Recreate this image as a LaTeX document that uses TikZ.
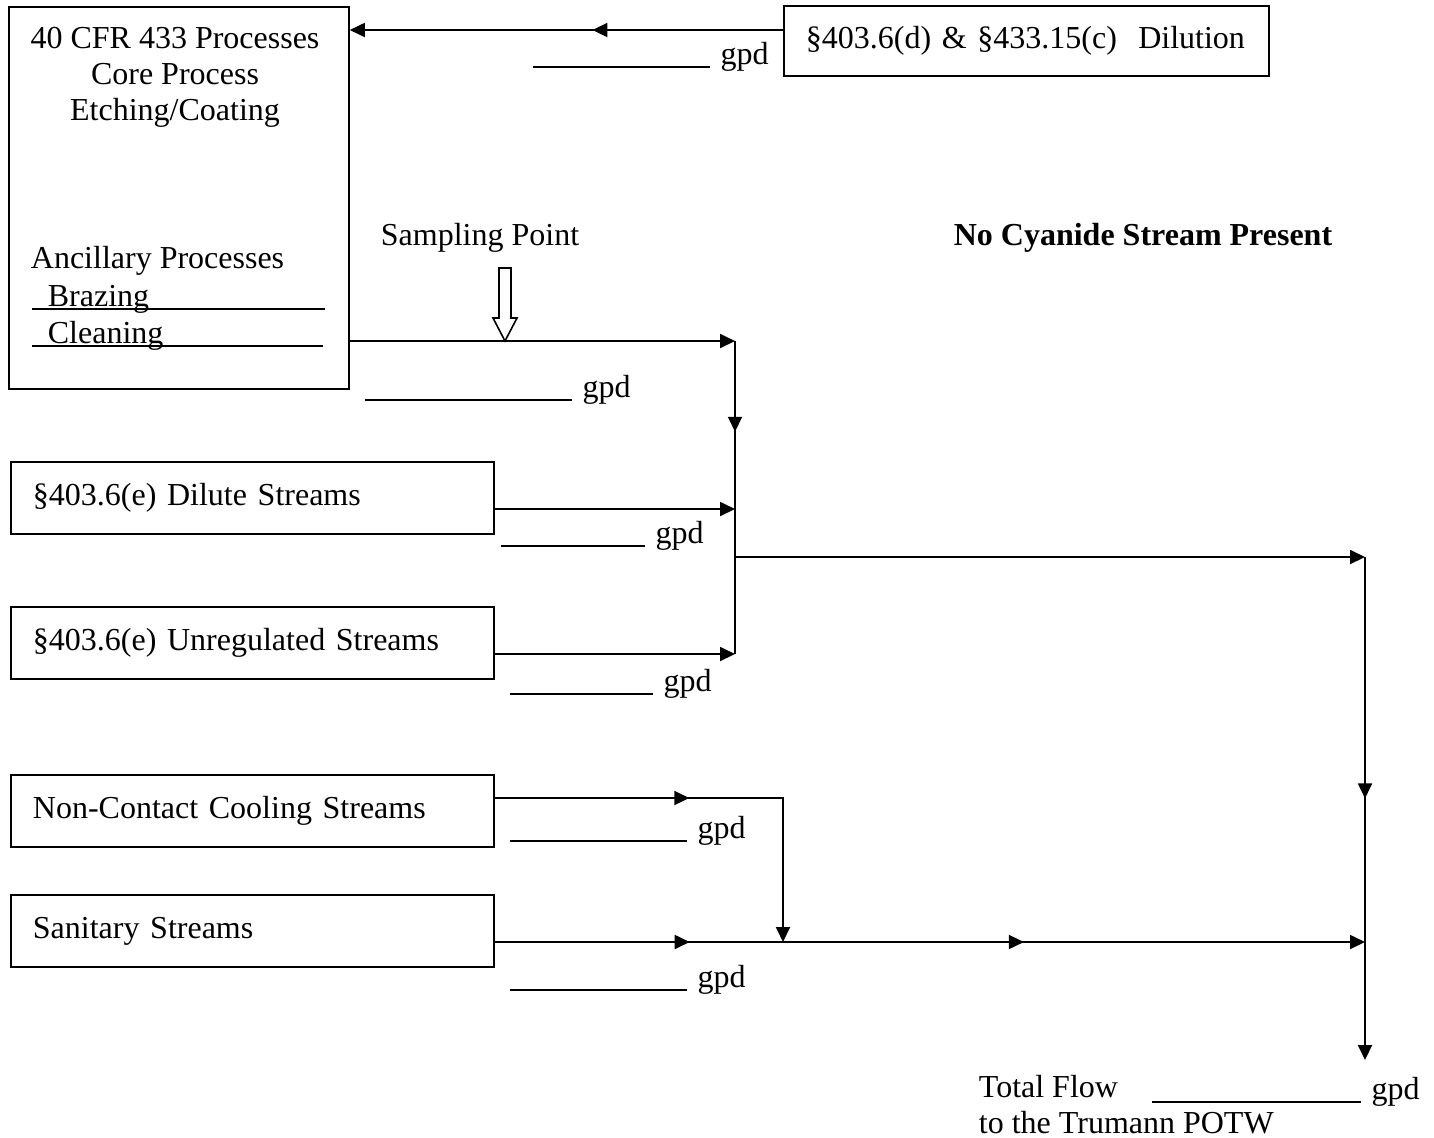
\documentclass[tikz,border=0pt]{standalone}
\usepackage{fontspec}
\setmainfont{Liberation Serif}
\usetikzlibrary{arrows.meta, positioning, calc, decorations.markings}

\begin{document}
\begin{tikzpicture}[
    x=0.5pt, y=-0.5pt,
    font=\fontsize{16}{18}\selectfont,
    line width=0.9pt,
    >={Triangle[length=7.5pt,width=7pt]},
    procbox/.style={
      draw,
      rectangle,
      anchor=north west,
      inner xsep=11pt,
      inner ysep=0pt,
      align=left,
    },
    streambox/.style={
      procbox,
      minimum height=36pt,
      text width=219.5pt,
    },
    txt/.style={anchor=base west, inner sep=0pt},
    blank/.style={line width=0.7pt},
    gpd/.style={anchor=base west, inner sep=0pt, xshift=5pt, yshift=1.5pt},
    midtip/.style={
      postaction={decorate,
        decoration={markings,
          mark=at position #1 with {\arrow{Triangle[length=7.5pt,width=7pt]}}}},
    },
  ]
    \useasboundingbox (0,0) rectangle (1434,1137);

    % process boxes
    \node[procbox, minimum width=170pt, minimum height=191pt] (core) at (8,6) {};
    \node[anchor=north, inner sep=0pt, align=center] (corehead) at (175,26)
      {40 CFR 433 Processes\\Core Process\\Etching/Coating};
    \node[txt] (ancil) at (30,268) {Ancillary Processes};
    \node[txt] (braze) at (47,306) {Brazing};
    \node[txt] (clean) at (47,343) {Cleaning};
    \draw[blank] (32,309) -- (325,309);
    \draw[blank] (32,346) -- (323,346);

    \node[procbox, minimum width=242.5pt, minimum height=35pt, text width=220.5pt]
      (dilution) at (783,5) {\S403.6(d) \& \S433.15(c)\ \ Dilution};
    \node[streambox] (dilute) at (10,461) {\S403.6(e) Dilute Streams};
    \node[streambox] (unreg) at (10,606) {\S403.6(e) Unregulated Streams};
    \node[streambox] (cool) at (10,774) {Non-Contact Cooling Streams};
    \node[streambox] (sanit) at (10,894) {Sanitary Streams};

    % labels
    \node[txt] (sampling) at (380,245) {Sampling Point};
    \node[anchor=base, inner sep=0pt, font=\fontsize{16}{18}\selectfont\bfseries]
      (nocn) at (1143,245) {No Cyanide Stream Present};
    \node[txt] (total) at (978,1097) {Total Flow};
    \node[txt] (potw) at (978,1133) {to the Trumann POTW};

    % junctions
    \coordinate (jtop) at (783,30);
    \coordinate (jcore) at (735,341);
    \coordinate (jdil) at (735,509);
    \coordinate (junreg) at (735,654);
    \coordinate (jmid) at (735,557);
    \coordinate (jright) at (1365,557);
    \coordinate (jcool) at (783,798);
    \coordinate (jsan) at (783,942);
    \coordinate (jbot) at (1365,942);
    \coordinate (jout) at (1365,1060);

    % flows
    \draw[->, midtip=0.44] (jtop) -- (core.east |- jtop);
    \draw[->] (core.east |- jcore) -- (jcore);
    \draw[midtip=0.29] (jcore) -- (junreg);
    \draw[->] (dilute.east |- jdil) -- (jdil);
    \draw[->] (unreg.east |- junreg) -- (junreg);
    \draw[->] (jmid) -- (jright);
    \draw[->, midtip=0.48] (jright) -- (jout);
    \draw[->, midtip=0.45] (cool.east |- jcool) -- (jcool) -- (jsan);
    \draw[->, midtip=0.224, midtip=0.608] (sanit.east |- jsan) -- (jbot);

    % sampling point marker
    \draw[line width=0.8pt, fill=white] (499,268) -- (511,268) -- (511,318) -- (517,318)
      -- (505,341) -- (493,318) -- (499,318) -- cycle;

    % flow blanks
    \draw[blank] (533,67) -- (710,67) node[gpd] (gpdA) {gpd};
    \draw[blank] (365,400) -- (572,400) node[gpd] (gpdB) {gpd};
    \draw[blank] (501,546) -- (645,546) node[gpd] (gpdC) {gpd};
    \draw[blank] (510,694) -- (653,694) node[gpd] (gpdD) {gpd};
    \draw[blank] (510,841) -- (687,841) node[gpd] (gpdE) {gpd};
    \draw[blank] (510,990) -- (687,990) node[gpd] (gpdF) {gpd};
    \draw[blank] (1152,1102) -- (1361,1102) node[gpd] (gpdG) {gpd};
  \end{tikzpicture}
\end{document}
